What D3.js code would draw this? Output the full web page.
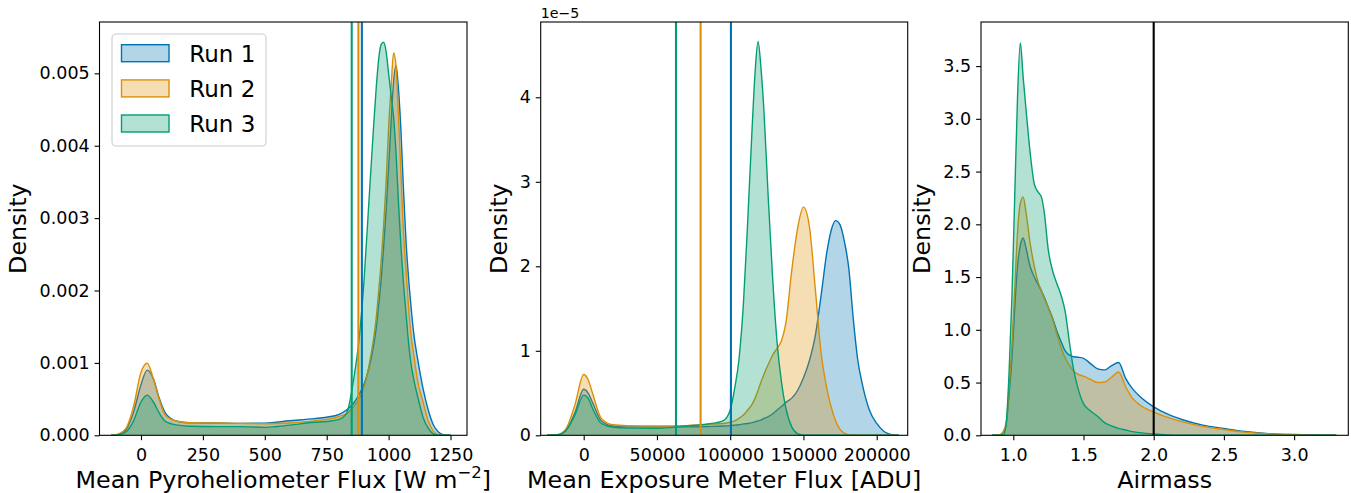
<!DOCTYPE html>
<html><head><meta charset="utf-8">
<script src="https://cdn.jsdelivr.net/npm/d3@7"></script>
<style>body{margin:0;background:#fff;} text{font-family:"DejaVu Sans",sans-serif;fill:#000;}</style>
</head><body><svg id="c" width="1351" height="493" xmlns="http://www.w3.org/2000/svg"></svg>
<script>
// ---------- data ----------
const runNames = ["Run 1", "Run 2", "Run 3"];
const runColors = ["#0173b2", "#de8f05", "#029e73"];

// Panel 1: Mean Pyroheliometer Flux [W m^-2]
const pyroGrid = [-120,-90,-60,-30,0,25,50,75,100,150,200,300,400,500,600,700,750,800,830,860,880,900,920,940,950,960,970,980,990,1000,1010,1020,1030,1040,1050,1060,1070,1080,1090,1100,1120,1140,1160,1180,1200,1220,1250];
const pyroRun1 = [0,0.00001,0.00008,0.00032,0.0007,0.0009,0.00078,0.0005,0.0003,0.00019,0.000172,0.00017,0.000165,0.000168,0.0002,0.00023,0.00025,0.00029,0.00035,0.00045,0.00056,0.0007,0.00092,0.00125,0.00148,0.0018,0.00215,0.0026,0.0031,0.0037,0.00432,0.00488,0.00511,0.00478,0.0042,0.0034,0.0027,0.0022,0.0018,0.00145,0.001,0.00063,0.00035,0.00015,0.00005,0.00001,0];
const pyroRun2 = [0,0.00002,0.0001,0.0004,0.00087,0.000995,0.00078,0.00048,0.00027,0.00019,0.000175,0.00017,0.000165,0.00016,0.00017,0.0002,0.00022,0.00026,0.0003,0.0004,0.0005,0.00066,0.00095,0.00135,0.00162,0.002,0.0024,0.0029,0.0035,0.00425,0.0048,0.00528,0.0051,0.0044,0.0036,0.0028,0.0023,0.0018,0.0014,0.00115,0.0007,0.00045,0.0002,0.00006,0.00001,0,0];
const pyroRun3 = [0,0.00001,0.00005,0.0002,0.00046,0.000555,0.00046,0.0003,0.00019,0.00014,0.000125,0.00012,0.00012,0.00011,0.00014,0.00018,0.00019,0.00022,0.0003,0.0008,0.0013,0.0021,0.0032,0.0043,0.0048,0.0052,0.0054,0.00543,0.0053,0.005,0.0047,0.0044,0.0039,0.0032,0.0026,0.0021,0.0017,0.0013,0.001,0.0008,0.0005,0.00024,0.0001,0.00002,0,0,0];
const pyroMeans = [892, 878, 851];
const pyroXTicks = [0, 250, 500, 750, 1000, 1250];
const pyroYTicks = [0, 0.001, 0.002, 0.003, 0.004, 0.005];

// Panel 2: Mean Exposure Meter Flux [ADU]  (density in units of 1e-5)
const expGrid = [-25000,-18000,-12000,-6000,0,3000,6000,12000,20000,30000,50000,70000,85000,95000,100000,103000,106000,109000,112000,115000,117000,119000,121000,123000,126000,129000,132000,135000,138000,142000,146000,150000,154000,158000,162000,166000,169000,172000,175000,178000,181000,184000,187000,190000,195000,200000,205000,210000,215000];
const expRun1 = [0,0.006,0.06,0.27,0.545,0.5,0.39,0.17,0.11,0.1,0.1,0.1,0.105,0.11,0.115,0.12,0.125,0.135,0.14,0.15,0.16,0.17,0.18,0.2,0.22,0.255,0.3,0.34,0.39,0.44,0.53,0.68,0.88,1.17,1.65,2.17,2.43,2.54,2.49,2.29,1.97,1.38,0.9,0.62,0.3,0.14,0.045,0.008,0];
const expRun2 = [0,0.008,0.08,0.36,0.72,0.66,0.5,0.2,0.125,0.115,0.11,0.115,0.13,0.14,0.155,0.17,0.2,0.24,0.3,0.37,0.44,0.53,0.63,0.72,0.84,0.95,1.03,1.12,1.33,1.95,2.45,2.7,2.48,1.75,0.98,0.55,0.33,0.17,0.07,0.025,0.005,0,0,0,0,0,0,0,0];
const expRun3 = [0,0.005,0.06,0.24,0.475,0.44,0.32,0.14,0.095,0.085,0.083,0.11,0.135,0.17,0.3,0.55,0.9,1.55,2.55,3.65,4.3,4.66,4.35,3.85,2.8,1.85,1.1,0.63,0.32,0.1,0.02,0.002,0,0,0,0,0,0,0,0,0,0,0,0,0,0,0,0,0];
const expMeans = [100500, 79800, 63000];
const expXTicks = [0, 50000, 100000, 150000, 200000];
const expYTicks = [0, 1, 2, 3, 4];
const expOffsetText = "1e\u22125";

// Panel 3: Airmass
const airGrid = [0.85,0.9,0.93,0.95,0.97,0.99,1.01,1.03,1.05,1.07,1.09,1.12,1.15,1.18,1.2,1.22,1.25,1.28,1.31,1.34,1.37,1.4,1.43,1.46,1.5,1.55,1.6,1.65,1.7,1.75,1.8,1.85,1.9,2.0,2.1,2.2,2.35,2.5,2.65,2.8,3.0,3.15,3.3];
const airRun1 = [0,0.002,0.03,0.11,0.38,0.72,1.2,1.6,1.8,1.87,1.78,1.6,1.5,1.42,1.37,1.31,1.21,1.11,0.99,0.89,0.8,0.76,0.745,0.74,0.73,0.68,0.63,0.62,0.66,0.69,0.54,0.44,0.37,0.27,0.2,0.15,0.097,0.065,0.036,0.018,0.007,0.003,0];
const airRun2 = [0,0.003,0.04,0.13,0.45,0.85,1.38,1.92,2.2,2.26,2.12,1.82,1.6,1.44,1.37,1.3,1.21,1.1,0.96,0.83,0.73,0.66,0.61,0.58,0.56,0.53,0.5,0.505,0.55,0.6,0.46,0.35,0.29,0.22,0.17,0.13,0.085,0.055,0.03,0.015,0.006,0.002,0];
const airRun3 = [0,0,0.005,0.12,0.6,1.3,2.25,3.2,3.72,3.4,3.1,2.68,2.38,2.3,2.26,2.12,1.75,1.56,1.44,1.33,1.17,0.88,0.62,0.45,0.3,0.23,0.18,0.12,0.09,0.065,0.05,0.035,0.025,0.012,0.004,0.001,0,0,0,0,0,0,0];
const airLimit = [2.0];
const airXTicks = [1.0, 1.5, 2.0, 2.5, 3.0];
const airYTicks = [0, 0.5, 1.0, 1.5, 2.0, 2.5, 3.0, 3.5];

// ---------- layout ----------
const TOP = 22, BOTTOM = 435.3;
const svg = d3.select("#c");

const panels = [
  { grid: pyroGrid, series: [pyroRun1, pyroRun2, pyroRun3], left: 99.5, right: 467,
    xDomain: [-167.6, 1316.6], yDomain: [0, 0.005709], xTicks: pyroXTicks, yTicks: pyroYTicks,
    xFmt: d => String(d), yFmt: d => d.toFixed(3),
    vlines: pyroMeans.map((v, i) => ({ v, c: runColors[i] })), ylabX: 25.8, legend: true,
    xlabel: "pyro" },
  { grid: expGrid, series: [expRun1, expRun2, expRun3], left: 540.7, right: 907.7,
    xDomain: [-29350, 221160], yDomain: [0, 4.891], xTicks: expXTicks, yTicks: expYTicks,
    xFmt: d => String(d), yFmt: d => String(d),
    vlines: expMeans.map((v, i) => ({ v, c: runColors[i] })), ylabX: 506.8,
    xlabel: "Mean Exposure Meter Flux [ADU]", offset: expOffsetText },
  { grid: airGrid, series: [airRun1, airRun2, airRun3], left: 981, right: 1348.3,
    xDomain: [0.770, 3.386], yDomain: [0, 3.918], xTicks: airXTicks, yTicks: airYTicks,
    xFmt: d => d.toFixed(1), yFmt: d => d.toFixed(1),
    vlines: airLimit.map(v => ({ v, c: "#000000" })), ylabX: 930,
    xlabel: "Airmass" }
];

panels.forEach((p, pi) => {
  const x = d3.scaleLinear().domain(p.xDomain).range([p.left, p.right]);
  const y = d3.scaleLinear().domain(p.yDomain).range([BOTTOM, TOP]);
  const g = svg.append("g");
  const clipId = "clip" + pi;
  svg.append("clipPath").attr("id", clipId).append("rect")
    .attr("x", p.left).attr("y", TOP).attr("width", p.right - p.left).attr("height", BOTTOM - TOP);
  const plot = g.append("g").attr("clip-path", `url(#${clipId})`);

  const area = d3.area().x((d, i) => x(p.grid[i])).y0(y(0)).y1(d => y(d)).curve(d3.curveMonotoneX);
  const line = d3.line().x((d, i) => x(p.grid[i])).y(d => y(d)).curve(d3.curveMonotoneX);

  p.series.forEach((s, si) => {
    plot.append("path").attr("d", area(s)).attr("fill", runColors[si]).attr("fill-opacity", 0.3).attr("stroke", "none");
    plot.append("path").attr("d", line(s)).attr("fill", "none").attr("stroke", runColors[si]).attr("stroke-width", 1.4);
  });

  p.vlines.forEach(vl => {
    plot.append("line").attr("x1", x(vl.v)).attr("x2", x(vl.v)).attr("y1", TOP).attr("y2", BOTTOM)
      .attr("stroke", vl.c).attr("stroke-width", 2.1);
  });

  // axes
  const xAxis = d3.axisBottom(x).tickValues(p.xTicks).tickFormat(p.xFmt).tickSize(4.9).tickPadding(8.1);
  const yAxis = d3.axisLeft(y).tickValues(p.yTicks).tickFormat(p.yFmt).tickSize(4.9).tickPadding(4.9);
  const gx = g.append("g").attr("transform", `translate(0,${BOTTOM})`).call(xAxis);
  const gy = g.append("g").attr("transform", `translate(${p.left},0)`).call(yAxis);
  [gx, gy].forEach(a => {
    a.select(".domain").remove();
    a.selectAll(".tick line").attr("stroke", "#000").attr("stroke-width", 1.1);
    a.selectAll(".tick text").attr("font-size", "17.5px").attr("font-family", "DejaVu Sans").attr("fill", "#000");
  });

  // spines
  g.append("rect").attr("x", p.left).attr("y", TOP).attr("width", p.right - p.left).attr("height", BOTTOM - TOP)
    .attr("fill", "none").attr("stroke", "#000").attr("stroke-width", 1.1);

  // labels
  const cx = (p.left + p.right) / 2;
  const xl = g.append("text").attr("x", cx).attr("y", 487.5).attr("text-anchor", "middle").attr("font-size", "23.8px");
  if (p.xlabel === "pyro") {
    xl.append("tspan").text("Mean Pyroheliometer Flux [W m");
    xl.append("tspan").attr("font-size", "16.5px").attr("dy", -9.5).text("\u22122");
    xl.append("tspan").attr("dy", 9.5).text("]");
  } else {
    xl.text(p.xlabel);
  }
  g.append("text").attr("transform", `translate(${p.ylabX},${(TOP + BOTTOM) / 2}) rotate(-90)`)
    .attr("text-anchor", "middle").attr("font-size", "23.8px").text("Density");

  if (p.offset) {
    g.append("text").attr("x", p.left).attr("y", 17.5).attr("font-size", "14.2px").text(p.offset);
  }

  if (p.legend) {
    const lg = g.append("g");
    lg.append("rect").attr("x", 112).attr("y", 34).attr("width", 154).attr("height", 112).attr("rx", 4)
      .attr("fill", "#fff").attr("fill-opacity", 0.8).attr("stroke", "#cccccc").attr("stroke-width", 1.1);
    const rowY = [44.7, 79.9, 115];
    const baseY = [62, 96.9, 131.9];
    runNames.forEach((n, i) => {
      lg.append("rect").attr("x", 121.5).attr("y", rowY[i]).attr("width", 47.5).attr("height", 17)
        .attr("fill", runColors[i]).attr("fill-opacity", 0.3).attr("stroke", runColors[i]).attr("stroke-width", 1.4);
      lg.append("text").attr("x", 189.3).attr("y", baseY[i]).attr("font-size", "23px").text(n);
    });
  }
});
</script></body></html>
